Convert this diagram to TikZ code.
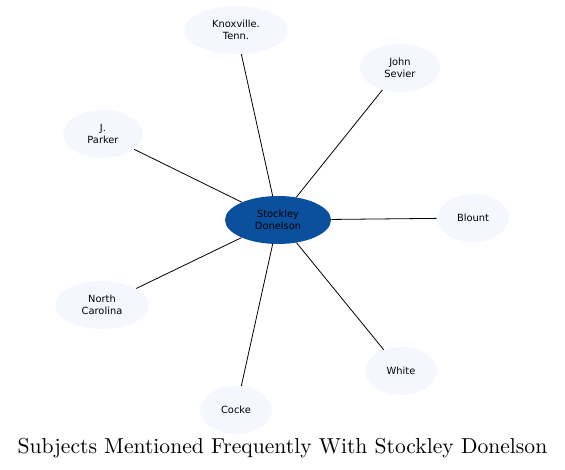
\documentclass[tikz,border=0pt]{standalone}
\usepackage{fontspec}
\newfontfamily\nodefont{DejaVu Sans}
\newfontfamily\titlefont{lmroman10-regular.otf}
\usetikzlibrary{shapes.geometric}
\definecolor{leaf}{RGB}{244,248,254}
\definecolor{hub}{RGB}{11,80,156}
\begin{document}
\begin{tikzpicture}[x=0.75pt,y=-0.75pt,
  bub/.style={ellipse,fill=leaf,inner sep=0pt,minimum height=36pt,
    font=\nodefont\fontsize{7.4}{8.8}\selectfont,align=center},
  edge/.style={draw=black,line width=0.6pt}]
\useasboundingbox (0,0) rectangle (565,470);
\node[bub,fill=hub,minimum width=79.5pt] (c) at (278,220) {Stockley\\Donelson};
\node[bub,minimum width=78pt] (k) at (236,30) {Knoxville.\\Tenn.};
\node[bub,minimum width=60pt] (j) at (400,68) {John\\Sevier};
\node[bub,minimum width=60pt] (p) at (103,134) {J.\\Parker};
\node[bub,minimum width=54pt] (b) at (473,218) {Blount};
\node[bub,minimum width=70pt] (n) at (102,305) {North\\Carolina};
\node[bub,minimum width=54pt] (w) at (401,371) {White};
\node[bub,minimum width=54pt] (o) at (236,410) {Cocke};
\foreach \t in {k,j,p,b,n,w,o} \draw[edge] (c) -- (\t);
\node[font=\titlefont\fontsize{16.2}{19}\selectfont] (title) at (282.5,448) {Subjects Mentioned Frequently With Stockley Donelson};
\end{tikzpicture}
\end{document}
